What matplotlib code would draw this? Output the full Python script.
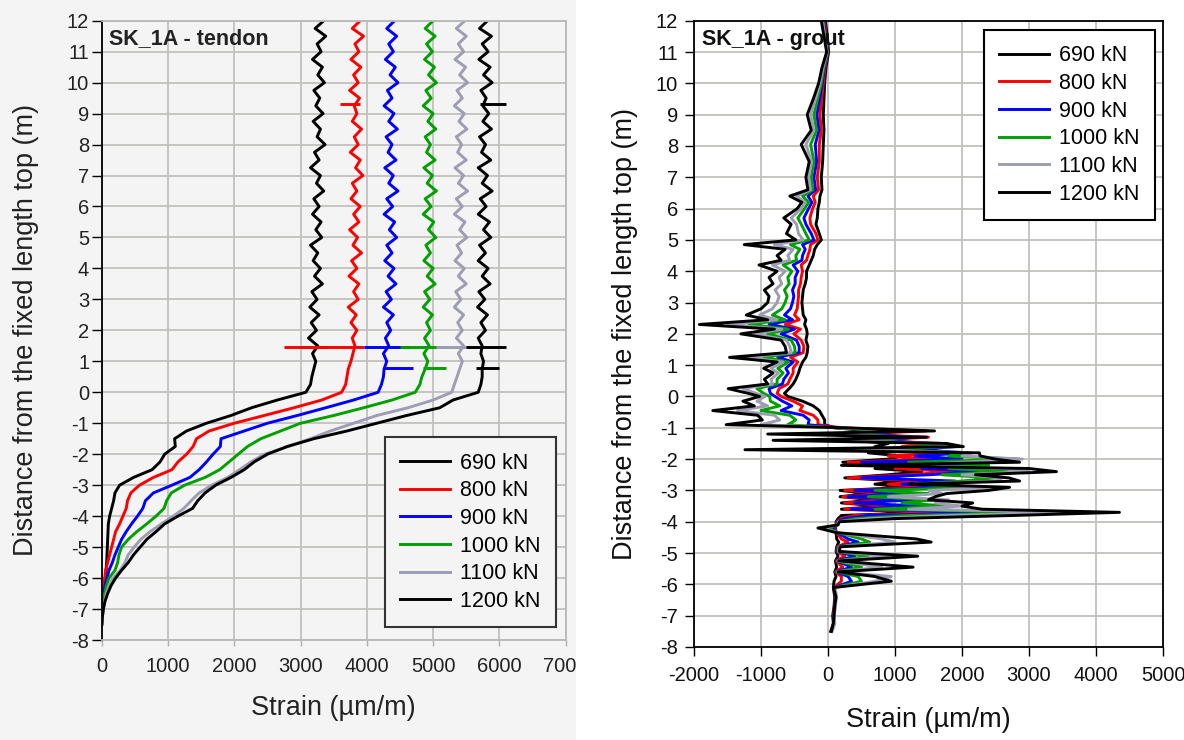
import numpy as np
import matplotlib
matplotlib.use("Agg")
import matplotlib.pyplot as plt
from matplotlib.patches import Rectangle

plt.rcParams['font.family'] = ['Liberation Sans', 'DejaVu Sans']
plt.rcParams['axes.unicode_minus'] = False

loads = ["690 kN", "800 kN", "900 kN", "1000 kN", "1100 kN", "1200 kN"]
colors = ["black", "#ff0000", "#0000ff", "#00a000", "#9d9db3", "black"]

# ---- tendon strain, read every 0.25 m from 12 m down to -7.5 m
t_depth = np.arange(12, -7.51, -0.25)

t690 = [3350, 3220, 3380, 3250, 3310, 3180, 3330, 3260, 3360, 3200,
        3290, 3230, 3340, 3190, 3300, 3250, 3370, 3210, 3280, 3150,
        3300, 3240, 3350, 3200, 3280, 3180, 3310, 3230, 3320, 3150,
        3260, 3190, 3300, 3210, 3330, 3170, 3250, 3140, 3280, 3160,
        3240, 3120, 3260, 3180, 3230,
        3200, 3170, 3150, 3080, 2650, 2260, 1950, 1580, 1280, 1100,
        1110, 950, 880, 760, 480, 270, 200, 180, 150, 120,
        100, 95, 90, 85, 80, 75, 65, 55, 50, 40,
        30, 20, 10, 0]
t800 = [3900, 3780, 3950, 3820, 3880, 3760, 3910, 3800, 3870, 3740,
        3890, 3810, 3850, 3780, 3920, 3810, 3870, 3750, 3900, 3830,
        3940, 3780, 3850, 3760, 3900, 3800, 3880, 3740, 3860, 3790,
        3920, 3770, 3850, 3730, 3880, 3800, 3870, 3720, 3840, 3760,
        3850, 3780, 3820, 3790, 3760,
        3720, 3700, 3680, 3620, 3320, 2900, 2450, 2000, 1620, 1430,
        1380, 1280, 1150, 1060, 780, 570, 440, 390, 370, 320,
        270, 210, 180, 150, 120, 90, 60, 45, 30, 20,
        15, 10, 5, 0]
t900 = [4420, 4300, 4450, 4330, 4400, 4280, 4430, 4350, 4470, 4310,
        4380, 4260, 4410, 4330, 4460, 4290, 4380, 4320, 4440, 4270,
        4400, 4330, 4470, 4300, 4390, 4260, 4420, 4340, 4450, 4300,
        4380, 4270, 4410, 4320, 4440, 4290, 4370, 4250, 4400, 4300,
        4360, 4280, 4330, 4250, 4300,
        4260, 4250, 4220, 4170, 3800, 3380, 2950, 2500, 2150, 1800,
        1790, 1680, 1580, 1470, 1330, 1060, 780, 660, 620, 540,
        450, 370, 300, 250, 200, 160, 110, 80, 50, 35,
        20, 15, 8, 0]
t1000 = [5000, 4880, 5030, 4900, 4990, 4870, 5020, 4930, 5050, 4890,
         4970, 4850, 5000, 4920, 5040, 4880, 4960, 4900, 5030, 4860,
         4990, 4910, 5050, 4880, 4970, 4850, 5010, 4930, 5040, 4890,
         4960, 4860, 5000, 4910, 5030, 4870, 4950, 4850, 4990, 4900,
         4960, 4870, 4940, 4860, 4920,
         4880, 4830, 4800, 4730, 4380, 3950, 3500, 3000, 2700, 2400,
         2200, 2060, 1920, 1780, 1560, 1250, 1050, 980, 940, 820,
         680, 530, 400, 300, 260, 240, 200, 110, 70, 45,
         30, 18, 10, 0]
t1100 = [5480, 5350, 5500, 5380, 5460, 5330, 5490, 5400, 5520, 5360,
         5440, 5320, 5470, 5390, 5510, 5350, 5430, 5370, 5500, 5330,
         5460, 5380, 5520, 5350, 5440, 5320, 5480, 5400, 5510, 5360,
         5430, 5330, 5470, 5380, 5500, 5340, 5420, 5320, 5460, 5370,
         5440, 5350, 5460, 5380, 5440,
         5400, 5360, 5320, 5280, 5000, 4620, 4150, 3800, 3450, 3150,
         2820, 2450, 2250, 2080, 1900, 1660, 1470, 1350, 1240, 1080,
         900, 730, 590, 490, 400, 350, 280, 170, 110, 70,
         45, 25, 12, 0]
t1200 = [5820, 5700, 5880, 5740, 5830, 5690, 5860, 5760, 5890, 5720,
         5800, 5750, 5840, 5750, 5880, 5700, 5790, 5730, 5870, 5680,
         5820, 5740, 5890, 5710, 5800, 5680, 5850, 5760, 5870, 5700,
         5790, 5680, 5830, 5740, 5860, 5690, 5780, 5670, 5820, 5720,
         5790, 5680, 5740, 5720, 5760,
         5740, 5740, 5720, 5680, 5300, 5100, 4600, 4150, 3700, 3200,
         2800, 2500, 2300, 2150, 1950, 1720, 1560, 1450, 1370, 1150,
         950, 820, 680, 580, 480, 400, 300, 210, 140, 90,
         50, 25, 10, 0]
tendon = [t690, t800, t900, t1000, t1100, t1200]

# single-reading spikes on the tendon: depth, load index, from, to
t_spike_depth = [1.45, 1.45, 1.45, 1.45, 1.45, 1.45, 9.3, 9.3, 0.8, 0.8, 0.8]
t_spike_load = [0, 1, 2, 3, 4, 5, 1, 5, 2, 3, 5]
t_spike_lo = [3000, 2750, 3950, 4500, 5050, 5500, 3600, 5700, 4250, 4850, 5650]
t_spike_hi = [3400, 3950, 4650, 5200, 5650, 6100, 3900, 6100, 4700, 5200, 6000]

# ---- grout strain
g_depth = [12.0, 11.5, 11.0, 10.5, 10.0, 9.5, 9.0, 8.5, 8.05, 7.5,
           7.0, 6.6, 6.4, 6.2, 6.0, 5.7, 5.5,
           5.2, 5.0, 4.85, 4.7, 4.5, 4.35, 4.2, 4.0, 3.8, 3.6,
           3.4, 3.2, 3.0, 2.8, 2.6, 2.45, 2.3, 2.15, 2.0, 1.8,
           1.6, 1.4, 1.25, 1.1, 0.9, 0.75, 0.55, 0.4, 0.25, 0.1,
           0.0, -0.15, -0.3, -0.45, -0.6, -0.75,
           -0.9, -1.0, -1.1, -1.2, -1.3, -1.4, -1.5, -1.6, -1.7, -1.8,
           -1.9, -2.0, -2.1, -2.2, -2.3, -2.4, -2.5, -2.6, -2.7, -2.8,
           -2.9, -3.0, -3.1, -3.2, -3.3, -3.4, -3.5, -3.6, -3.7, -3.8,
           -3.9, -4.0,
           -4.1, -4.2, -4.35, -4.55, -4.65, -4.8, -4.95, -5.1, -5.25, -5.45,
           -5.6, -5.75, -5.9, -6.1, -6.4, -6.7, -7.0, -7.25, -7.5]

g690 = [-40, -10, 10, -30, -50, -60, -70, -60, -70, -80, -100, -90, -120, -130, -150, -160, -180,
        -130, -100, -160, -200, -220, -250, -280, -320, -320, -340, -370, -380, -390, -380, -370, -330,
        -350, -320, -310, -330, -300, -310, -330, -380, -420, -440, -480, -520, -580, -650, -600, -380,
        -220, -130, -90, -50,
        -50, 100, 600, 300, 700, 400, 900, 700, 1000, 600, 1100, 900, 220, 1200, 700, 1400, 900, 250,
        1100, 700, 1200, 180, 600, 180, 700, 200, 800, 200, 1500, 200, 150, 120,
        125, 110, 120, 130, 160, 130, 120, 150, 110, 130, 100, 120, 90, 80, 100, 90, 70, 80, 40]
g800 = [-55, -25, 0, -45, -70, -95, -120, -100, -130, -130, -160, -140, -220, -190, -230, -270, -260,
        -180, -150, -260, -270, -300, -320, -400, -380, -400, -410, -440, -440, -450, -460, -500, -430,
        -640, -410, -510, -400, -360, -370, -560, -450, -520, -520, -570, -600, -730, -760, -700, -520,
        -380, -420, -220, -150,
        -150, 200, 1470, 400, 1500, 600, 1700, 1100, 1200, 1800, 900, 1500, 300, 1700, 1000, 1900, 1200,
        300, 1500, 900, 1600, 250, 900, 220, 1000, 250, 1100, 250, 1900, 400, 200, 130,
        130, 100, 130, 200, 300, 140, 130, 250, 120, 220, 110, 200, 200, 90, 110, 95, 80, 85, 45]
g900 = [-65, -35, -5, -55, -85, -125, -165, -135, -190, -170, -210, -185, -300, -240, -290, -360, -330,
        -250, -210, -380, -340, -380, -390, -520, -450, -490, -490, -530, -510, -530, -560, -650, -530,
        -880, -500, -700, -470, -430, -430, -750, -520, -630, -590, -660, -680, -880, -860, -790, -680,
        -540, -700, -370, -280,
        -300, 150, 1100, 500, 1300, 800, 1500, 1900, 1300, 2100, 1300, 2000, 500, 2100, 1400, 2300, 1500,
        500, 1900, 1100, 2000, 400, 1200, 300, 1300, 400, 1400, 350, 2700, 600, 250, 140,
        135, 60, 140, 300, 450, 150, 140, 400, 130, 350, 120, 300, 350, 95, 115, 100, 85, 90, 50]
g1000 = [-75, -45, -10, -65, -100, -155, -210, -170, -260, -210, -250, -225, -380, -290, -350, -450, -400,
         -330, -280, -560, -420, -480, -470, -670, -540, -600, -580, -650, -610, -640, -690, -830, -640,
         -1180, -590, -900, -550, -500, -490, -960, -590, -750, -670, -760, -760, -1060, -960, -870, -860,
         -720, -1000, -570, -480,
         -600, 100, 900, 300, 1100, 600, 1300, 1700, 1000, 2000, 1800, 2850, 1200, 2400, 1800, 2700, 1700,
         2500, 2000, 1300, 2300, 700, 1500, 600, 1600, 1100, 1800, 700, 3400, 1200, 400, 150,
         140, 0, 150, 500, 620, 160, 150, 600, 140, 500, 130, 450, 500, 100, 120, 105, 90, 95, 55]
g1100 = [-85, -50, -15, -75, -120, -185, -260, -210, -330, -245, -290, -260, -470, -340, -400, -550, -470,
         -440, -370, -800, -520, -600, -570, -830, -640, -730, -690, -790, -730, -760, -830, -1020, -760,
         -1500, -690, -1090, -620, -570, -550, -1200, -670, -850, -740, -850, -830, -1270, -1070, -940, -1060,
         -900, -1350, -800, -720,
         -1000, 150, 1200, -200, 1300, 100, 1600, 1900, 200, 2150, 2000, 2900, 2000, 1200, 2600, 3000, 2000,
         2600, 2500, 1300, 2600, 1500, 1700, 900, 1800, 1600, 2000, 1200, 3800, 1800, 600, 160,
         145, -80, 150, 800, 1000, 170, 160, 900, 150, 800, 140, 945, 700, 110, 125, 110, 95, 100, 60]
g1200 = [-100, -60, -20, -90, -140, -220, -310, -250, -400, -280, -330, -300, -570, -390, -460, -660, -550,
         -620, -480, -1250, -640, -760, -700, -1030, -760, -880, -820, -950, -880, -900, -1000, -1220, -900,
         -1920, -800, -1300, -700, -640, -620, -1470, -760, -960, -820, -950, -900, -1490, -1190, -1020, -1270,
         -1100, -1720, -1050, -980,
         -1520, 250, 1590, -900, 1470, -820, 1770, 2020, -1240, 2260, 2270, 2500, 2860, 200, 3000, 3410, 2200,
         2700, 2860, 1200, 2710, 2400, 1770, 1600, 1500, 2160, 2000, 2300, 4350, 2760, 1000, 170,
         150, -150, 130, 1320, 1540, 180, 170, 1340, 160, 1270, 150, 700, 945, 80, 120, 100, 90, 80, 50]
grout = [g690, g800, g900, g1000, g1100, g1200]

W, H = 1184, 740
fig = plt.figure(figsize=(W / 100, H / 100), dpi=100)
fig.add_artist(Rectangle((0, 0), 576 / W, 1, transform=fig.transFigure,
                         facecolor="#f5f4f4", edgecolor="none", zorder=-1))

ax1 = fig.add_axes([101.7 / W, 1 - 640 / H, 464 / W, 619.3 / H])
ax2 = fig.add_axes([694 / W, 1 - 647 / H, 469 / W, 626.3 / H])

lw = 2.1
grid_col = "#c3c0bc"

# left panel: tendon
ax1.set_facecolor("#f5f4f4")
lines1 = []
for vals, col in zip(tendon, colors):
    ln, = ax1.plot(vals, t_depth, color=col, lw=lw)
    lines1.append(ln)
for d, k, lo, hi in zip(t_spike_depth, t_spike_load, t_spike_lo, t_spike_hi):
    ax1.hlines(d, lo, hi, color=colors[k], lw=lw)

ax1.set_xlim(0, 7000)
ax1.set_ylim(-8, 12)
ax1.set_xticks(range(0, 7001, 1000))
ax1.set_yticks(range(-8, 13))
ax1.grid(True, color=grid_col, lw=1.3)
ax1.set_axisbelow(True)
for s in ["top", "right", "bottom"]:
    ax1.spines[s].set_color("#b8b8b8")
    ax1.spines[s].set_linewidth(1.3)
ax1.spines["left"].set_color("black")
ax1.spines["left"].set_linewidth(1.3)
ax1.tick_params(axis="y", direction="out", length=7, width=1, color="black",
                labelsize=14.5, pad=2, labelcolor="#222222")
ax1.tick_params(axis="x", direction="out", length=4, width=1, color="#b0b0b0",
                labelsize=14.5, pad=8, labelcolor="#222222")
ax1.set_xlabel("Strain (\u00b5m/m)", fontsize=19.5, labelpad=14, color="#222222")
ax1.set_ylabel("Distance from the fixed length top (m)", fontsize=19.5,
               labelpad=20, color="#222222")
ax1.text(0.016, 0.988, "SK_1A - tendon", transform=ax1.transAxes,
         fontsize=15.5, fontweight="bold", va="top", ha="left", color="#222222")
leg1 = ax1.legend(lines1, loads, loc="lower right", bbox_to_anchor=(0.979, 0.021),
                  borderaxespad=0, fontsize=15.5, handlelength=2.3, handletextpad=0.5,
                  labelspacing=0.31, borderpad=0.7, fancybox=False,
                  edgecolor="#333333", facecolor="#f5f4f4", framealpha=1)
leg1.get_frame().set_linewidth(1.5)

# right panel: grout
lines2 = []
for vals, col in zip(grout, colors):
    ln, = ax2.plot(vals, g_depth, color=col, lw=lw)
    lines2.append(ln)

ax2.set_xlim(-2000, 5000)
ax2.set_ylim(-8, 12)
ax2.set_xticks(range(-2000, 5001, 1000))
ax2.set_yticks(range(-8, 13))
ax2.grid(True, color=grid_col, lw=1.3)
ax2.set_axisbelow(True)
for s in ax2.spines.values():
    s.set_color("black")
    s.set_linewidth(1.3)
ax2.tick_params(axis="both", direction="out", length=6.5, width=1, color="black",
                labelsize=14.5, labelcolor="#111111")
ax2.tick_params(axis="x", pad=7)
ax2.tick_params(axis="y", pad=5)
ax2.set_xlabel("Strain (\u00b5m/m)", fontsize=19.5, labelpad=16, color="#111111")
ax2.set_ylabel("Distance from the fixed length top (m)", fontsize=19.5,
               labelpad=13, color="#111111")
ax2.text(0.016, 0.987, "SK_1A - grout", transform=ax2.transAxes,
         fontsize=15.5, fontweight="bold", va="top", ha="left", color="#111111")
leg2 = ax2.legend(lines2, loads, loc="upper right", bbox_to_anchor=(0.983, 0.985),
                  borderaxespad=0, fontsize=15.5, handlelength=2.3, handletextpad=0.5,
                  labelspacing=0.31, borderpad=0.7, fancybox=False,
                  edgecolor="black", facecolor="white", framealpha=1)
leg2.get_frame().set_linewidth(1.5)

# the source image is cut just after the left panel, trimming its last tick label
fig.add_artist(Rectangle((576 / W, 0), 24 / W, 0.2, transform=fig.transFigure,
                         facecolor="white", edgecolor="none", zorder=5))

fig.savefig("out.png", dpi=100)
